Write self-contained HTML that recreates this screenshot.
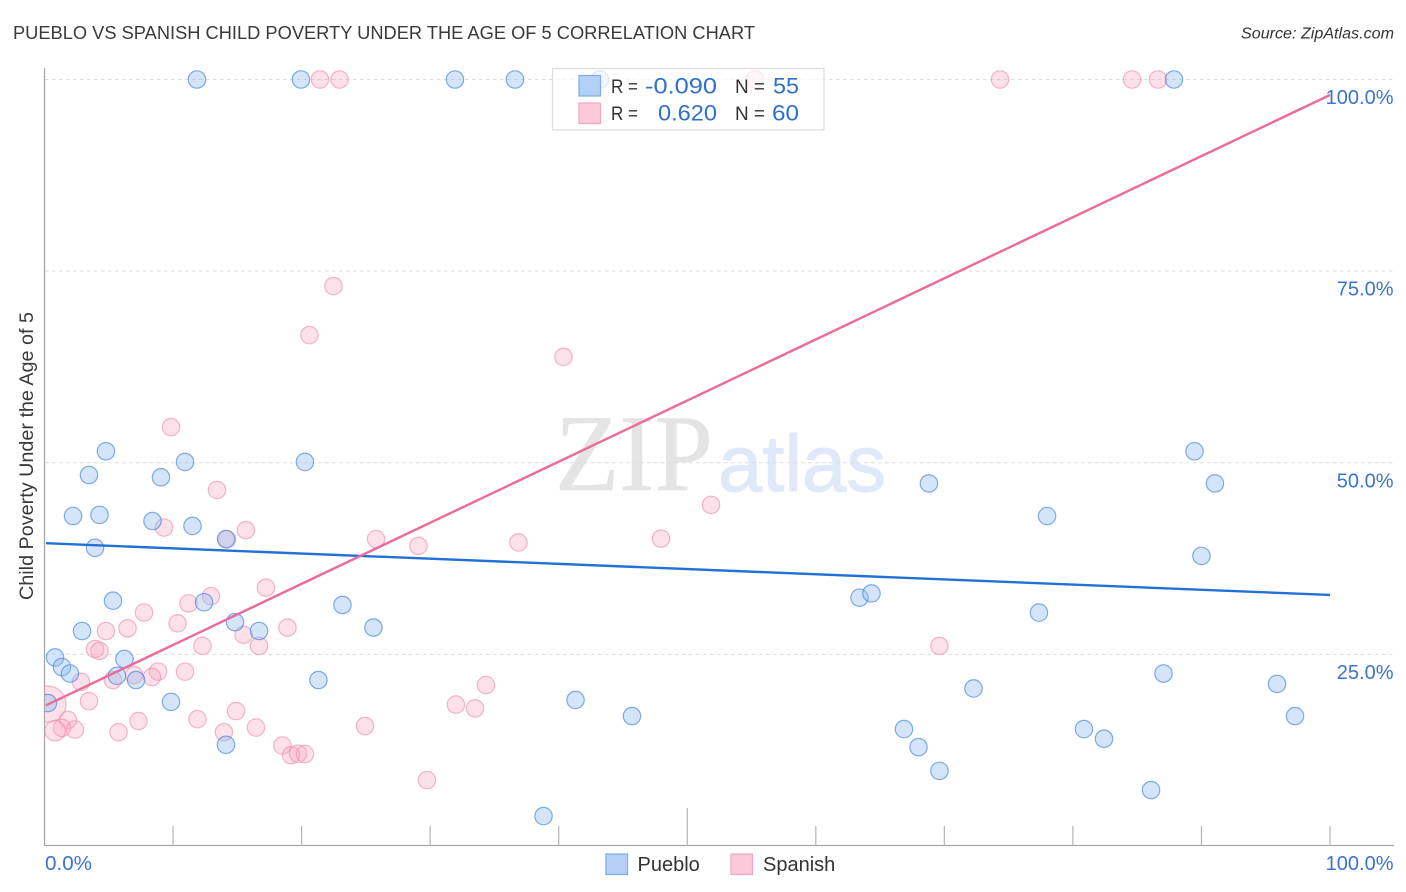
<!DOCTYPE html>
<html>
<head>
<meta charset="utf-8">
<title>Pueblo vs Spanish Child Poverty Correlation Chart</title>
<style>
html,body{margin:0;padding:0;background:#fff;}
body{width:1406px;height:892px;overflow:hidden;font-family:"Liberation Sans",sans-serif;}
svg{display:block;}
text{font-family:"Liberation Sans",sans-serif;}
</style>
</head>
<body>
<svg id="chart" width="1406" height="892" viewBox="0 0 1406 892" xmlns="http://www.w3.org/2000/svg">
  <text x="13" y="39" font-size="18.5" fill="#3a3a3a" textLength="742" lengthAdjust="spacingAndGlyphs">PUEBLO VS SPANISH CHILD POVERTY UNDER THE AGE OF 5 CORRELATION CHART</text>
  <text x="1241" y="38.5" font-size="15.5" font-style="italic" fill="#333" textLength="153" lengthAdjust="spacingAndGlyphs">Source: ZipAtlas.com</text>

  <g>
    <text x="555" y="490" style="font-family:'Liberation Serif',serif" font-size="109" fill="#e4e4e4" stroke="#e4e4e4" stroke-width="0.6" textLength="158" lengthAdjust="spacingAndGlyphs">ZIP</text>
    <text x="718" y="491" font-size="80" fill="#dfe9f9" stroke="#dfe9f9" stroke-width="1" textLength="168" lengthAdjust="spacingAndGlyphs">atlas</text>
  </g>

  <g id="grid"></g>
  <g id="points"></g>
  <g id="trends"></g>
  <rect x="0" y="60" width="44.5" height="800" fill="#fff"/>
  <g id="axes"></g>
  <g id="ticklabels"></g>
  <text transform="translate(33,456) rotate(-90)" font-size="19.5" fill="#3a3a3a" text-anchor="middle" textLength="288" lengthAdjust="spacingAndGlyphs">Child Poverty Under the Age of 5</text>

  <g>
    <rect x="552.5" y="68.5" width="271.5" height="61.5" fill="#fff" fill-opacity="0.72" stroke="#ddd" stroke-width="1.2"/>
    <rect x="579" y="75.5" width="21.5" height="20.5" fill="#b3d0f7" stroke="#7fabe3" stroke-width="1.2"/>
    <rect x="579" y="103" width="21.5" height="20.5" fill="#fcc9da" stroke="#f2a6bd" stroke-width="1.2"/>
    <text x="611" y="93" font-size="19" fill="#333" textLength="27" lengthAdjust="spacingAndGlyphs">R =</text>
    <text x="645" y="93.5" font-size="22" fill="#2f6fd0" textLength="72" lengthAdjust="spacingAndGlyphs">-0.090</text>
    <text x="735" y="93" font-size="19" fill="#333" textLength="30" lengthAdjust="spacingAndGlyphs">N =</text>
    <text x="773" y="93.5" font-size="22" fill="#2f6fd0" textLength="26" lengthAdjust="spacingAndGlyphs">55</text>
    <text x="611" y="120" font-size="19" fill="#333" textLength="27" lengthAdjust="spacingAndGlyphs">R =</text>
    <text x="658" y="120.5" font-size="22" fill="#2f6fd0" textLength="59" lengthAdjust="spacingAndGlyphs">0.620</text>
    <text x="735" y="120" font-size="19" fill="#333" textLength="30" lengthAdjust="spacingAndGlyphs">N =</text>
    <text x="772" y="120.5" font-size="22" fill="#2f6fd0" textLength="27" lengthAdjust="spacingAndGlyphs">60</text>
  </g>

  <g>
    <rect x="606" y="854" width="21.5" height="20.5" fill="#b3d0f7" stroke="#7fabe3" stroke-width="1.2"/>
    <text x="637.5" y="871" font-size="20" fill="#333">Pueblo</text>
    <rect x="731" y="854" width="21.5" height="20.5" fill="#fcc9da" stroke="#f2a6bd" stroke-width="1.2"/>
    <text x="763" y="871" font-size="20" fill="#333">Spanish</text>
  </g>
</svg>
<script>
const puebloX = [11.86,19.95,31.93,36.6,43.2,87.86,4.78,3.46,9.06,10.93,20.26,2.22,4.28,8.4,11.51,14.12,3.93,5.33,12.41,14.82,16.69,23.18,25.59,2.92,0.82,1.36,1.98,5.64,6.22,7.12,9.84,21.31,0.27,14.12,41.31,45.7,38.82,66.86,67.99,69.62,72.27,68.8,77.99,77.36,63.4,64.33,80.86,82.42,86.08,87.05,89.46,91.05,90.0,95.88,97.28];
const puebloY = [100,100,100,100,100,100,51.5,48.4,48.1,50.1,50.1,43.05,43.2,42.4,41.75,40.05,38.9,32.0,31.8,29.2,28.05,31.45,28.5,28.05,24.6,23.35,22.5,22.2,24.4,21.65,18.8,21.65,18.65,13.2,19.05,16.95,3.9,15.25,12.9,9.8,20.55,47.3,43.05,30.45,32.4,32.95,15.25,14.0,7.3,22.5,51.5,47.3,37.85,21.15,16.95];
const spanishX = [21.43,22.95,55.27,74.33,84.6,86.62,22.48,20.61,40.37,9.84,13.42,51.85,9.29,15.67,14.2,25.79,29.09,36.87,47.96,17.23,12.95,11.2,7.74,10.35,6.46,4.78,18.9,15.48,12.29,16.69,3.93,4.28,69.62,2.84,8.83,10.93,6.96,8.36,5.33,34.34,0.27,3.46,32.0,33.49,14.9,1.83,11.9,7.31,24.93,16.45,1.36,2.37,0.82,5.76,13.96,18.51,19.18,19.72,20.26,29.75];
const spanishY = [100,100,100,100,100,100,73.05,66.65,63.8,54.65,46.45,44.5,41.55,41.2,40,40.05,39.15,39.6,40.1,33.7,32.6,31.65,30.45,29.05,28.4,28.05,28.5,27.55,26.1,26.1,25.7,25.45,26.1,21.4,22.75,22.75,22.3,22.05,21.65,21.0,18.5,18.9,18.45,17.95,17.6,16.45,16.55,16.3,15.65,15.45,15.4,15.2,15.05,14.85,14.85,13.1,11.85,12.05,12.0,8.6];
const spanishWeight = [1,1,1,1,1,1,1,1,1,1,1,1,1,1,1,1,1,1,1,1,1,1,1,1,1,1,1,1,1,1,1,1,1,1,1,1,1,1,1,1,4.3,1,1,1,1,1,1,1,1,1,1,1,1.4,1,1,1,1,1,1,1];
const puebloTrendX = [0.12,100];
const puebloTrendY = [39.5,32.75];
const spanishTrendX = [0.12,100];
const spanishTrendY = [18.35,97.98];
const yTicks = [25,50,75,100];
const yTickLabels = ["25.0%","50.0%","75.0%","100.0%"];
const xTicks = [10,20,30,40,50,60,70,80,90,100];
const xTickLabels = ["0.0%","100.0%"];

const NS = "http://www.w3.org/2000/svg";
const xScale = v => 44.5 + v * 12.855;
const yScale = v => 846 - v * 7.665;

function make(tag, attrs, parent) {
  const el = document.createElementNS(NS, tag);
  for (const k in attrs) el.setAttribute(k, attrs[k]);
  parent.appendChild(el);
  return el;
}

const grid = document.getElementById("grid");
const axes = document.getElementById("axes");
const pts = document.getElementById("points");
const trends = document.getElementById("trends");
const labels = document.getElementById("ticklabels");

yTicks.forEach((t, i) => {
  const ln = make("line", {x1: 45, x2: 1393, y1: yScale(t), y2: yScale(t), stroke: "#dcdcdc", "stroke-width": 1, "stroke-dasharray": "3.5 3.5"}, grid);
  
  
  const tx = make("text", {x: 1393.5, y: yScale(t) + 24.5, "font-size": 20, fill: "#3b73d1", "text-anchor": "end"}, labels);
  tx.textContent = yTickLabels[i];
  
  
});

const yAxis = make("line", {x1: 44.5, x2: 44.5, y1: 68, y2: 846, stroke: "#a8a8a8", "stroke-width": 1.3}, axes);


const xAxis = make("line", {x1: 44, x2: 1394, y1: 845.5, y2: 845.5, stroke: "#a8a8a8", "stroke-width": 1.3}, axes);


xTicks.forEach(t => {
  const tk = make("line", {x1: xScale(t), x2: xScale(t), y1: t === 50 ? 808 : 826, y2: 846, stroke: "#b4b4b4", "stroke-width": 1.2}, axes);
  
  
});

const x0 = make("text", {x: 45, y: 870, "font-size": 20, fill: "#3b73d1", textLength: 47, lengthAdjust: "spacingAndGlyphs"}, labels);
x0.textContent = xTickLabels[0];


const x1 = make("text", {x: 1393.5, y: 870, "font-size": 20, fill: "#3b73d1", "text-anchor": "end"}, labels);
x1.textContent = xTickLabels[1];



spanishX.forEach((v, i) => {
  const c = make("circle", {cx: xScale(v), cy: yScale(spanishY[i]), r: 8.7 * Math.sqrt(spanishWeight[i]), fill: "#f8a5c0", "fill-opacity": 0.33, stroke: "#ee8fae", "stroke-opacity": 0.65, "stroke-width": 1.2}, pts);
  
  
});
puebloX.forEach((v, i) => {
  const c = make("circle", {cx: xScale(v), cy: yScale(puebloY[i]), r: 8.7, fill: "#8fbaf0", "fill-opacity": 0.38, stroke: "#3f82dc", "stroke-opacity": 0.65, "stroke-width": 1.2}, pts);
  
  
});

const blueLine = make("line", {x1: xScale(puebloTrendX[0]), y1: yScale(puebloTrendY[0]), x2: xScale(puebloTrendX[1]), y2: yScale(puebloTrendY[1]), stroke: "#2272d6", "stroke-width": 2.4}, trends);


const pinkLine = make("line", {x1: xScale(spanishTrendX[0]), y1: yScale(spanishTrendY[0]), x2: xScale(spanishTrendX[1]), y2: yScale(spanishTrendY[1]), stroke: "#e96c9a", "stroke-width": 2.4}, trends);


</script>
</body>
</html>
